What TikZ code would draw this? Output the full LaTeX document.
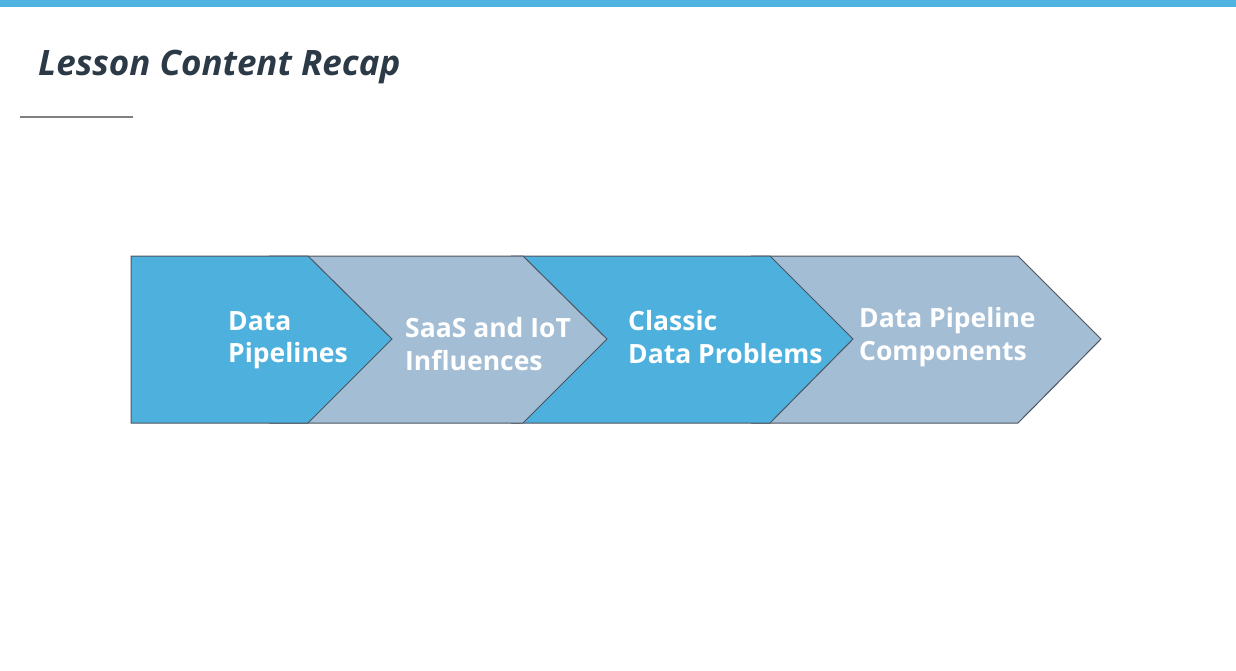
\documentclass[tikz,border=0pt]{standalone}
\usepackage{fontspec}
\setmainfont{Open Sans}
\definecolor{barblue}{HTML}{4FB3E1}
\definecolor{chevblue}{HTML}{4DB0DD}
\definecolor{chevgrey}{HTML}{A3BDD5}
\definecolor{edgegrey}{HTML}{4F5560}
\definecolor{titleink}{HTML}{2C3A47}
\begin{document}
\begin{tikzpicture}[x=1pt, y=-1pt,
    chevron/.style={draw=edgegrey, line width=1pt, line join=miter},
    steplabel/.style={anchor=west, align=left, text=white, inner sep=0pt,
      font=\bfseries\fontsize{26.5}{32.5}\selectfont}]

    \useasboundingbox (0,0) rectangle (1236,670);
    \fill[barblue] (0,0) rectangle (1236,7);

    \node[anchor=base west, inner sep=0pt, text=titleink,
      font=\bfseries\itshape\fontsize{35}{40}\selectfont] (title) at (38,75) {Lesson Content Recap};
    \draw[gray, line width=1.2pt] (20,117) -- (133,117);

    % chevrons, right to left so each tip lies on the next one
    \draw[chevron, fill=chevgrey] (752,256)--(1018,256)--(1101,339)--(1018,423)--(752,423)--(836,339)--cycle;
    \draw[chevron, fill=chevblue] (512,256)--(770,256)--(853,339)--(770,423)--(512,423)--(596,339)--cycle;
    \draw[chevron, fill=chevgrey] (270,256)--(523,256)--(607,339)--(523,423)--(270,423)--(354,339)--cycle;
    \draw[chevron, fill=chevblue] (131,256)--(308,256)--(392,339)--(308,423)--(131,423)--cycle;

    \node[steplabel] (pipes) at (228,340) {Data\\Pipelines};
    \node[steplabel] (saas) at (405,344) {SaaS and IoT\\Influences};
    \node[steplabel] (classic) at (628,337) {Classic\\Data Problems};
    \node[steplabel] (parts) at (859,337) {Data Pipeline\\Components};

\end{tikzpicture}
\end{document}
